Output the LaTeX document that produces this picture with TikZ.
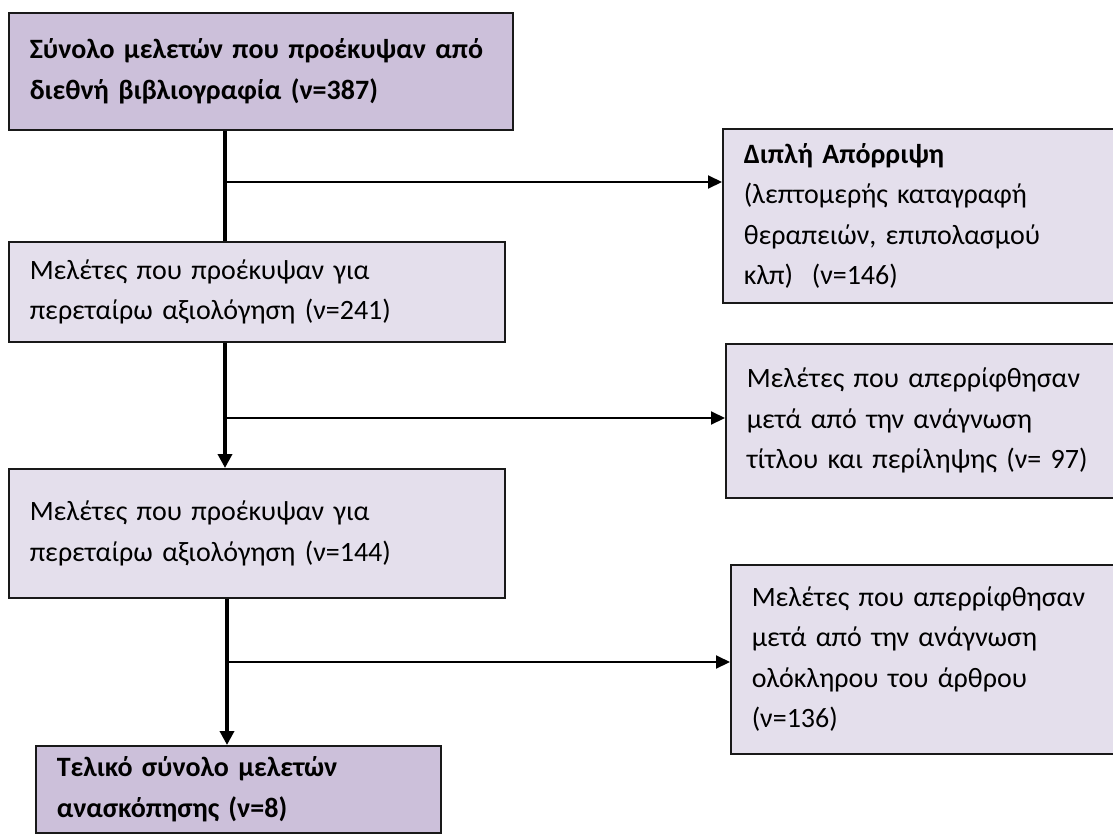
\documentclass[tikz,border=0pt]{standalone}
\usepackage{fontspec}
\setmainfont{Carlito}
\usetikzlibrary{arrows.meta}
\definecolor{darkfill}{HTML}{CCC0DA}
\definecolor{lightfill}{HTML}{E4DFEC}
\begin{document}
\begin{tikzpicture}[x=1pt,y=-1pt,
  box/.style={draw=black!90, line width=1.5pt, anchor=north west, inner xsep=21pt, inner ysep=0pt, align=left, font=\fontsize{28}{40.5}\selectfont},
  darkbox/.style={box, fill=darkfill, font=\fontsize{28}{40.5}\selectfont\bfseries},
  lightbox/.style={box, fill=lightfill},
  stemline/.style={line width=4pt},
  stemarrow/.style={line width=4pt, -{Triangle[length=14pt,width=14pt]}},
  branch/.style={line width=2pt, -{Triangle[length=14pt,width=13pt]}}]
\useasboundingbox (0,0) rectangle (1113,835);
\clip (0,0) rectangle (1113,835);

\node[darkbox, minimum width=504pt, minimum height=117pt, text width=462pt] (b1) at (8,12)
  {Σύνολο μελετών που προέκυψαν από\\διεθνή βιβλιογραφία (ν=387)};
\node[lightbox, minimum width=403pt, minimum height=174pt, text width=361pt] (dbl) at (722,128)
  {\textbf{Διπλή Απόρριψη}\\(λεπτομερής καταγραφή\\θεραπειών, επιπολασμού\\κλπ)\ \ (ν=146)};
\node[lightbox, minimum width=496pt, minimum height=100pt, text width=454pt] (b2) at (8,241)
  {Μελέτες που προέκυψαν για\\περεταίρω αξιολόγηση (ν=241)};
\node[lightbox, minimum width=400pt, minimum height=154pt, text width=358pt] (r2) at (725,343)
  {Μελέτες που απερρίφθησαν\\μετά από την ανάγνωση\\τίτλου και περίληψης (ν= 97)};
\node[lightbox, minimum width=496pt, minimum height=129pt, text width=454pt] (b3) at (8,468)
  {Μελέτες που προέκυψαν για\\περεταίρω αξιολόγηση (ν=144)};
\node[lightbox, minimum width=395pt, minimum height=189pt, text width=353pt] (r3) at (730,564)
  {Μελέτες που απερρίφθησαν\\μετά από την ανάγνωση\\ολόκληρου του άρθρου\\(ν=136)};
\node[darkbox, minimum width=405pt, minimum height=87pt, text width=363pt] (b4) at (35,745)
  {Τελικό σύνολο μελετών\\ανασκόπησης (ν=8)};

\coordinate (c1) at (225,182);
\coordinate (c2) at (225,418);
\coordinate (c3) at (227,662);

\draw[stemline] (b1.south -| c1) -- (b2.north -| c1);
\draw[branch] (c1) -- (c1 -| dbl.west);
\draw[stemarrow] (b2.south -| c2) -- (b3.north -| c2);
\draw[branch] (c2) -- (c2 -| r2.west);
\draw[stemarrow] (b3.south -| c3) -- (b4.north -| c3);
\draw[branch] (c3) -- (c3 -| r3.west);
\end{tikzpicture}
\end{document}
